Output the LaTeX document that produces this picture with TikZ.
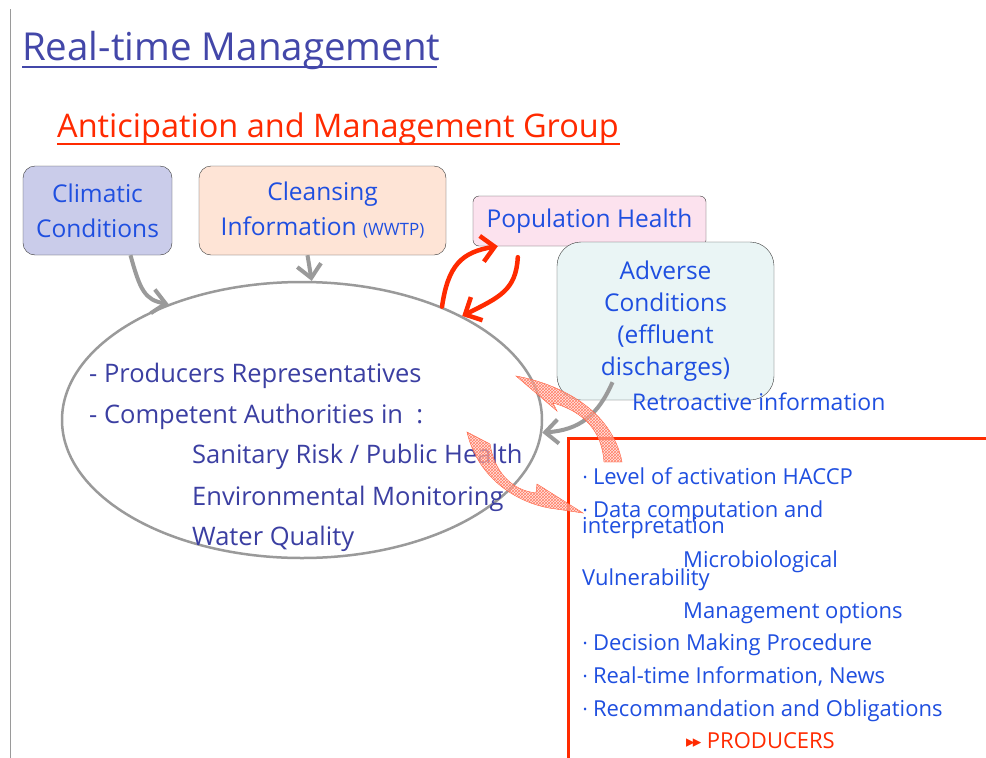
\documentclass[tikz,border=0pt]{standalone}
\usepackage{fontspec}
\setmainfont{Open Sans}
\newfontfamily\symfont{DejaVu Sans}
\usetikzlibrary{arrows.meta,shapes.geometric,patterns}
\definecolor{TitleBlue}{HTML}{4347A9}
\definecolor{Alert}{HTML}{FF2A00}
\definecolor{Ink}{HTML}{1F4FE0}
\definecolor{Deep}{HTML}{3B3FA2}
\definecolor{Grey}{HTML}{9A9A9A}
\definecolor{Frame}{HTML}{3A3A3A}
\definecolor{SoftLilac}{HTML}{CACCEA}
\definecolor{SoftPeach}{HTML}{FEE4D6}
\definecolor{SoftPink}{HTML}{FCE2EE}
\definecolor{SoftCyan}{HTML}{EAF5F5}
\newcommand{\bul}{{\fontsize{11}{11}\selectfont\raisebox{3pt}{•}}\ }

\begin{document}
\begin{tikzpicture}[x=1pt,y=-1pt,
  box/.style={draw=Frame,thin,rounded corners=12pt,align=center,text=Ink,font=\fontsize{24.5}{35}\selectfont,inner sep=0pt},
  member/.style={anchor=base west,inner sep=0pt,text=Deep,font=\fontsize{25.5}{25.5}\selectfont},
  item/.style={anchor=base west,inner sep=0pt,text=Ink,font=\fontsize{22}{22}\selectfont},
  feedarrow/.style={draw=Grey,line width=4pt,-{Straight Barb[length=13pt,width=24pt]}},
  healtharrow/.style={draw=Alert,line width=4.5pt,line cap=round,-{Straight Barb[length=13pt,width=26pt]}},
  hatch/.style={draw=Alert!80,thin,fill=Alert!20,fill opacity=0.55,postaction={pattern=crosshatch,pattern color=Alert!60}}
]
\useasboundingbox (0,0) rectangle (986,758);
\fill[white] (0,0) rectangle (986,758);
\draw[Grey,thin] (10,9) -- (10,758);

% titles
\node[anchor=base west,inner sep=0pt,text=TitleBlue,font=\fontsize{38.5}{38.5}\selectfont] (title) at (22,60) {Real-time Management};
\draw[TitleBlue,line width=1.5pt] (title.base west) ++(0,7) -- ++(415,0);
\node[anchor=base west,inner sep=0pt,text=Alert,font=\fontsize{32.5}{32.5}\selectfont] (group) at (57,137) {Anticipation and Management Group};
\draw[Alert,line width=1.5pt] (group.base west) ++(0,7) -- ++(563,0);

% group ellipse
\node[ellipse,draw=Grey,line width=2.5pt,minimum width=480pt,minimum height=276pt,inner sep=0pt] (grp) at (302,420) {};
\node[member] (rep) at (89,382) {- Producers Representatives};
\node[member] (auth) at (89,423) {- Competent Authorities in~~:};
\node[member] (risk) at (192,463) {Sanitary Risk / Public Health};
\node[member] (envmon) at (192,505) {Environmental Monitoring};
\node[member] (water) at (192,545) {Water Quality};

% inputs
\node[box,fill=SoftLilac,minimum width=149pt,minimum height=89pt] (clim) at (97.5,210.5) {Climatic\\Conditions};
\node[box,fill=SoftPeach,minimum width=247pt,minimum height=89pt] (clean) at (322.5,210.5) {Cleansing\\Information {\fontsize{17}{17}\selectfont(WWTP)}};
\node[box,fill=SoftPink,rounded corners=6pt,minimum width=233pt,minimum height=50pt] (ph) at (589.5,221) {Population Health};
\node[box,fill=SoftCyan,rounded corners=24pt,minimum width=217pt,minimum height=158pt,font=\fontsize{24.5}{32}\selectfont] (adv) at (665.5,321) {Adverse\\Conditions\\(effluent\\discharges)};

% connectors
\draw[feedarrow] ([xshift=33pt]clim.south) .. controls (140,290) and (145,300) .. (grp.139);
\draw[feedarrow] ([xshift=-15pt]clean.south) -- (grp.86);
\draw[feedarrow] ([xshift=-53pt,yshift=18pt]adv.south) .. controls (598,415) and (580,430) .. (grp.-3);
\draw[healtharrow] (grp.39) .. controls (448,265) and (462,252) .. ([xshift=25pt]ph.south west);
\draw[healtharrow] ([xshift=45pt,yshift=-11pt]ph.south west) .. controls (516,290) and (500,297) .. (grp.33);

\node[anchor=base west,inner sep=0pt,text=Ink,font=\fontsize{23}{23}\selectfont] (retro) at (632,410) {Retroactive information};

% output panel
\coordinate (panel) at (568,438);
\draw[Alert,line width=3pt] (568,758) -- (panel) -- (986,438);
\node[item] (haccp) at (583,484) {\bul Level of activation HACCP};
\node[item] (data) at (583,517) {\bul Data computation and};
\node[item] (interp) at (582,533) {interpretation};
\node[item] (micro) at (683,567) {Microbiological};
\node[item] (vuln) at (582,585) {Vulnerability};
\node[item] (mgmt) at (683,618) {Management options};
\node[item] (dmp) at (583,650) {\bul Decision Making Procedure};
\node[item] (news) at (583,683) {\bul Real-time Information, News};
\node[item] (oblig) at (583,716) {\bul Recommandation and Obligations};
\node[item,text=Alert] (prod) at (686,748) {{\symfont\fontsize{17}{17}\selectfont\raisebox{1pt}{▸\kern-2pt▸}}\ PRODUCERS};

% hatched feedback arrows
\path[hatch] (516,376) .. controls (560,384) and (612,410) .. (622,462) -- (604,462) .. controls (602,432) and (585,412) .. (553,403) -- (557,411) -- cycle;
\path[hatch] (467,432) -- (490,444) .. controls (494,470) and (510,490) .. (536,493) -- (537,484) -- (583,513) -- (556,509) .. controls (520,505) and (478,480) .. (467,432) -- cycle;
\end{tikzpicture}
\end{document}
